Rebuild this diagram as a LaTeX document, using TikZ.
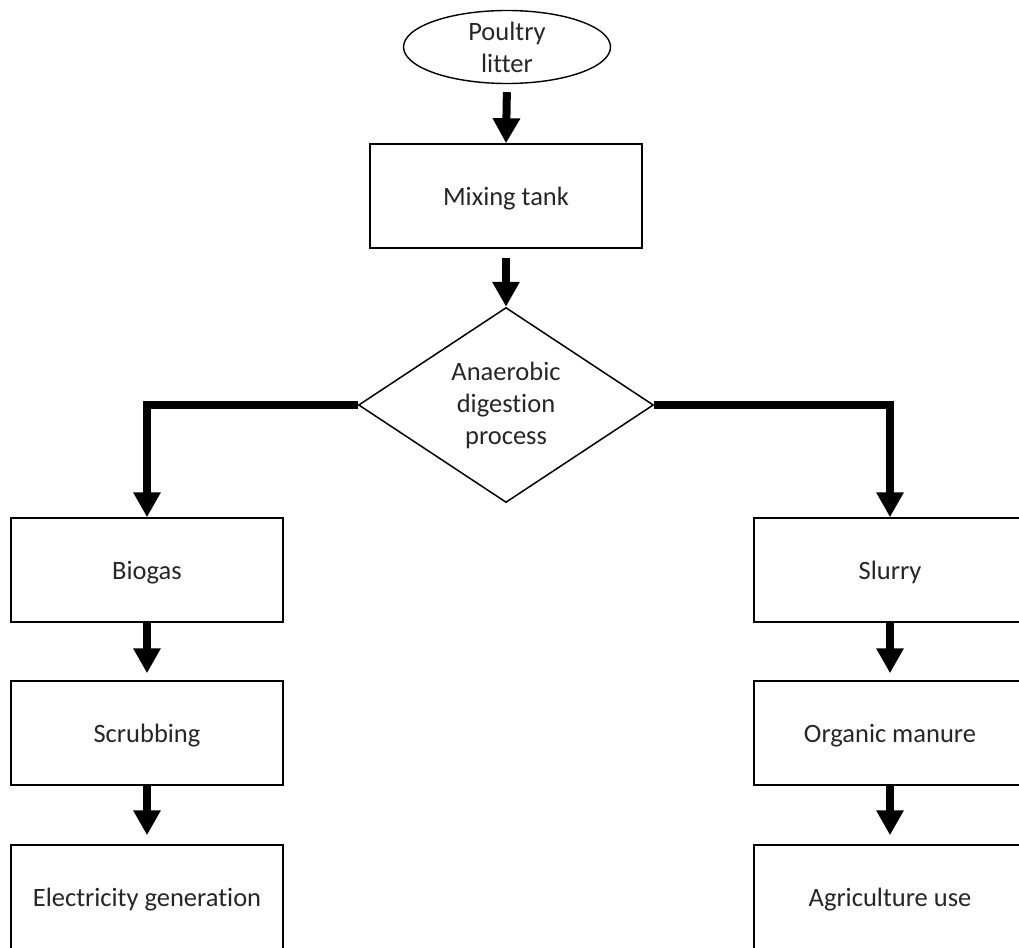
\documentclass[tikz,border=0pt]{standalone}
\usepackage{fontspec}
\setmainfont{Carlito}[Ligatures=NoCommon]
\usetikzlibrary{shapes.geometric,arrows.meta}
\begin{document}
\begin{tikzpicture}[x=1pt,y=1pt,
  txt/.style={font=\fontsize{26.5}{32}\selectfont,text=black!85,align=center},
  box/.style={txt,draw,line width=1.5pt,minimum width=272pt,minimum height=104pt,inner sep=0pt,text height=23pt,text depth=5pt},
  flow/.style={line width=8pt,line join=miter,-{Triangle[width=26pt,length=25pt]}}]
\useasboundingbox (0,0) rectangle (1019,-947);
\clip (0,0) rectangle (1019,-947);
\node[txt,draw,ellipse,line width=1.4pt,minimum width=207pt,minimum height=73pt,inner sep=0pt] (ell) at (507,-47) {Poultry\\litter};
\node[box] (mix) at (506,-196) {Mixing tank};
\node[txt,draw,diamond,aspect=1.5,line width=1.5pt,minimum width=295pt,minimum height=195pt,inner sep=0pt] (dia) at (506,-405) {Anaerobic\\digestion\\process};
\node[box] (bio) at (147,-570) {Biogas};
\node[box] (scr) at (147,-733) {Scrubbing};
\node[box] (ele) at (147,-897) {Electricity generation};
\node[box] (slu) at (890,-570) {Slurry};
\node[box] (org) at (890,-733) {Organic manure};
\node[box] (agr) at (890,-897) {Agriculture use};
\draw[flow,shorten <=8pt] (ell.south) -- (mix.north);
\draw[flow,shorten <=9pt] (mix.south) -- (dia.north);
\draw[flow] (dia.west) -| (bio.north);
\draw[flow] (dia.east) -| (slu.north);
\draw[flow,shorten >=7pt] (bio.south) -- (scr.north);
\draw[flow,shorten >=9pt] (scr.south) -- (ele.north);
\draw[flow,shorten >=7pt] (slu.south) -- (org.north);
\draw[flow,shorten >=9pt] (org.south) -- (agr.north);
\end{tikzpicture}
\end{document}
